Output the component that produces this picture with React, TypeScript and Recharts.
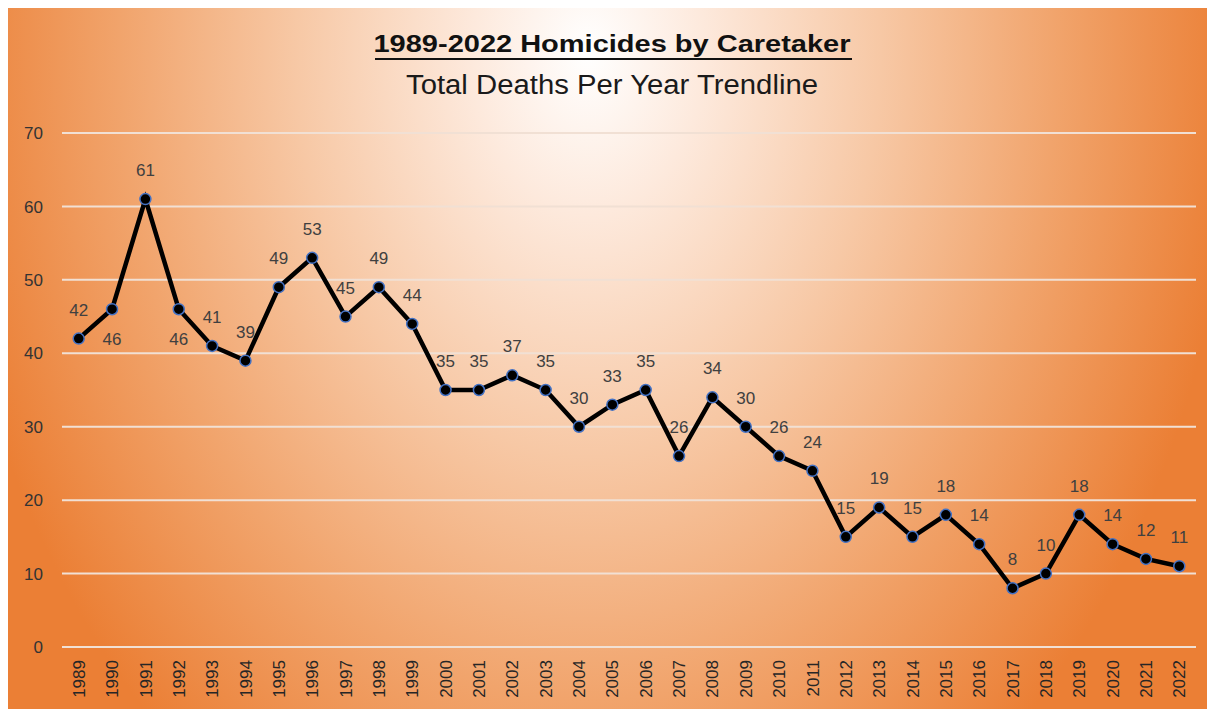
import React from 'react';
import { LineChart, Line, XAxis, YAxis, CartesianGrid, LabelList } from 'recharts';

const years = ['1989','1990','1991','1992','1993','1994','1995','1996','1997','1998','1999','2000','2001','2002','2003','2004','2005','2006','2007','2008','2009','2010','2011','2012','2013','2014','2015','2016','2017','2018','2019','2020','2021','2022'];
const deaths = [42,46,61,46,41,39,49,53,45,49,44,35,35,37,35,30,33,35,26,34,30,26,24,15,19,15,18,14,8,10,18,14,12,11];
const yTicks = [0,10,20,30,40,50,60,70];
const labelsBelow = ['1990','1992'];

const title = '1989-2022 Homicides by Caretaker';
const subtitle = 'Total Deaths Per Year Trendline';

const data = years.map((y, i) => ({ year: y, deaths: deaths[i] }));

const FONT = '"Liberation Sans", Arial, sans-serif';

const XTick = (props: any) => {
  const { x, y, payload } = props;
  return (
    <text x={x} y={y} transform={`rotate(-90, ${x}, ${y})`} textAnchor="end" dy="0.36em"
      fontFamily={FONT} fontSize={17} fill="#262626">{payload.value}</text>
  );
};

const YTick = (props: any) => {
  const { x, y, payload } = props;
  return (
    <text x={x} y={y} textAnchor="end" dy="0.36em" fontFamily={FONT} fontSize={17} fill="#333333">{payload.value}</text>
  );
};

const PointLabel = (props: any) => {
  const { x, y, value, index } = props;
  const below = labelsBelow.includes(years[index]);
  return (
    <text x={x} y={below ? y + 36 : y - 23} textAnchor="middle" fontFamily={FONT} fontSize={17} fill="#404040">{value}</text>
  );
};

export default function App() {
  return (
    <div style={{ position: 'relative', width: 1215, height: 717, margin: -8, background: '#d9d9d9', overflow: 'hidden' }}>
      <div style={{
        position: 'absolute', left: 6, top: 5, width: 1209, height: 712,
        borderTop: '2px solid #333', borderLeft: '2px solid #333',
        background: 'radial-gradient(ellipse 650px 900px at 580px 45px, #ffffff 0%, #fde9dc 18%, #f7c8a5 45%, #f1a46c 72%, #eb7f35 100%)'
      }}>
        <svg width={1207} height={110} style={{ position: 'absolute', left: 0, top: 0 }}>
          <text x={604} y={45} textAnchor="middle" fontFamily={FONT} fontWeight="bold" fontSize={23}
            fill="#111" textLength={477} lengthAdjust="spacingAndGlyphs">{title}</text>
          <line x1={367} x2={844} y1={52} y2={52} stroke="#111" strokeWidth={2} />
          <text x={604} y={87} textAnchor="middle" fontFamily={FONT} fontSize={27}
            fill="#1a1a1a" textLength={412} lengthAdjust="spacingAndGlyphs">{subtitle}</text>
        </svg>
        <div style={{ position: 'absolute', left: 0, top: 0 }}>
          <LineChart width={1207} height={710} data={data} margin={{ top: 126, right: 19, bottom: 10, left: 0 }}>
            <CartesianGrid vertical={false} stroke="#f1e0d4" strokeWidth={2} />
            <XAxis dataKey="year" axisLine={false} tickLine={false} tickSize={0} tickMargin={13}
              height={60} interval={0} padding={{ left: 16.7, right: 16.7 }} tick={<XTick />} />
            <YAxis domain={[0, 70]} ticks={yTicks} axisLine={false} tickLine={false} tickSize={0}
              tickMargin={19} width={54} tick={<YTick />} />
            <Line type="linear" dataKey="deaths" stroke="#000" strokeWidth={4.5} isAnimationActive={false}
              dot={{ r: 5.5, fill: '#000', stroke: '#4472c4', strokeWidth: 1.5 }}>
              <LabelList dataKey="deaths" content={<PointLabel />} />
            </Line>
          </LineChart>
        </div>
      </div>
    </div>
  );
}
